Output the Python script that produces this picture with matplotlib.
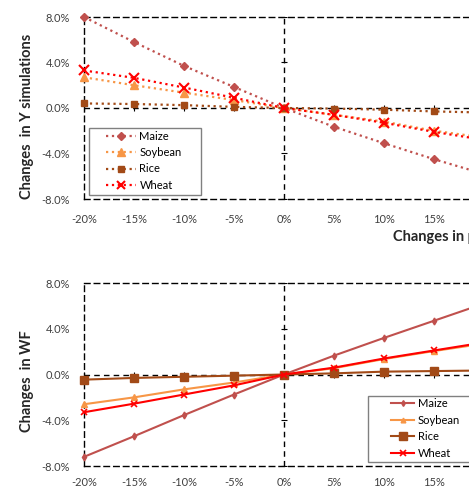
import matplotlib
matplotlib.use("Agg")
import matplotlib.pyplot as plt
from matplotlib.patches import Rectangle
import numpy as np

plt.rcParams['font.family'] = ['Lato', 'DejaVu Sans']

# ---------------------------------------------------------------------------#
# data (changes in %)
changes = [-20, -15, -10, -5, 0, 5, 10, 15, 20]
crops = ['Maize', 'Soybean', 'Rice', 'Wheat']

y_maize = [8.0, 5.8, 3.7, 1.85, 0.0, -1.65, -3.1, -4.5, -5.8]
y_soybean = [2.7, 2.0, 1.35, 0.7, 0.0, -0.6, -1.2, -2.0, -2.6]
y_rice = [0.4, 0.35, 0.25, 0.1, 0.0, -0.05, -0.15, -0.3, -0.4]
y_wheat = [3.3, 2.65, 1.8, 0.9, 0.0, -0.6, -1.3, -2.1, -2.8]

wf_maize = [-7.2, -5.4, -3.55, -1.75, 0.0, 1.65, 3.2, 4.7, 6.2]
wf_soybean = [-2.6, -2.0, -1.3, -0.7, 0.0, 0.55, 1.35, 2.05, 2.7]
wf_rice = [-0.45, -0.3, -0.2, -0.1, 0.0, 0.1, 0.25, 0.3, 0.35]
wf_wheat = [-3.3, -2.55, -1.75, -0.95, 0.0, 0.6, 1.4, 2.1, 2.8]

yticks = [-8, -4, 0, 4, 8]

colors = ['#C0504D', '#F79646', '#A24A17', '#FF0000']
markers_top = ['D', '^', 's', 'x']
msize_top = [4.5, 6, 5, 7]
markers_bot = ['d', '^', 's', 'x']
msize_bot = [3.5, 4, 6, 5]

W, H = 469, 490
fig = plt.figure(figsize=(W / 100, H / 100), dpi=100)

def px_axes(x0, y0, x1, y1):
    return fig.add_axes([x0 / W, 1 - y1 / H, (x1 - x0) / W, (y1 - y0) / H])

ax1 = px_axes(84, 17, 484, 199)
ax2 = px_axes(84, 283, 484, 466)

def style_axis(ax, xpad):
    ax.set_xlim(-20, 20)
    ax.set_ylim(-8, 8)
    ax.set_xticks(changes[:-1])
    ax.set_xticklabels([f'{c}%' for c in changes[:-1]])
    ax.set_yticks(yticks)
    ax.set_yticklabels([f'{v:.1f}%' for v in yticks])
    ax.tick_params(length=0, labelsize=8, labelcolor='#404040')
    ax.tick_params(axis='x', pad=xpad)
    ax.tick_params(axis='y', pad=10)
    for s in ax.spines.values():
        s.set_linestyle((0, (4, 3)))
        s.set_linewidth(1.0)
        s.set_color('black')
    ax.axhline(0, color='black', lw=1.0, ls=(0, (4, 3)), zorder=1)
    ax.axvline(0, color='black', lw=1.0, ls=(0, (4, 3)), zorder=1)
    # excel-like ticks on the crossing axes
    xt = [c for c in changes if c != 0]
    ax.plot(xt, np.zeros(len(xt)), ls='', marker='|', ms=5, color='black', mew=0.8, zorder=1)
    yt = [v for v in yticks if v != 0]
    ax.plot(np.zeros(len(yt)), yt, ls='', marker='_', ms=5, color='black', mew=0.8, zorder=1)

style_axis(ax1, 11)
style_axis(ax2, 8)

for vals, name, c, m, ms in zip([y_maize, y_soybean, y_rice, y_wheat], crops, colors, markers_top, msize_top):
    ax1.plot(changes, vals, ls=':', lw=1.6, color=c, marker=m, ms=ms, mew=1.5 if m == 'x' else 1,
             label=name, zorder=3, clip_on=False)

for vals, name, c, m, ms in zip([wf_maize, wf_soybean, wf_rice, wf_wheat], crops, colors, markers_bot, msize_bot):
    ax2.plot(changes, vals, ls='-', lw=1.5, color=c, marker=m, ms=ms, mew=1.2 if m == 'x' else 1,
             label=name, zorder=3, clip_on=False)

# excel-style legend boxes (frame drawn separately for the wide right margin)
def legend_box(ax, x0, y0, x1, y1):
    r = Rectangle((x0 / W, 1 - y1 / H), (x1 - x0) / W, (y1 - y0) / H, transform=fig.transFigure,
                  facecolor='white', edgecolor='#808080', lw=1.0, zorder=4, clip_on=False)
    ax.add_patch(r)

legend_box(ax1, 89, 128, 201, 195)
legend_box(ax2, 368, 396, 480, 462)

leg_kw = dict(fontsize=8, frameon=False, borderaxespad=0, borderpad=0, handletextpad=0.3,
              markerscale=0.85, loc='upper left', bbox_transform=fig.transFigure)
l1 = ax1.legend(bbox_to_anchor=(106 / W, 1 - 131 / H), handlelength=2.7, labelspacing=0.47, **leg_kw)
l2 = ax2.legend(bbox_to_anchor=(391 / W, 1 - 398 / H), handlelength=2.1, labelspacing=0.5, **leg_kw)
l1.set_zorder(5)
l2.set_zorder(5)

fig.text(27 / W, 1 - 116 / H, 'Changes  in Y simulations', rotation=90, ha='center', va='center',
         fontsize=10.5, fontweight='bold', color='#262626')
fig.text(27 / W, 1 - 381 / H, 'Changes  in WF', rotation=90, ha='center', va='center',
         fontsize=10.5, fontweight='bold', color='#262626')
fig.text(393 / W, 1 - 237 / H, 'Changes in parameters', ha='left', va='center',
         fontsize=10.5, fontweight='bold', color='#262626')

fig.savefig('out.png', dpi=100)
